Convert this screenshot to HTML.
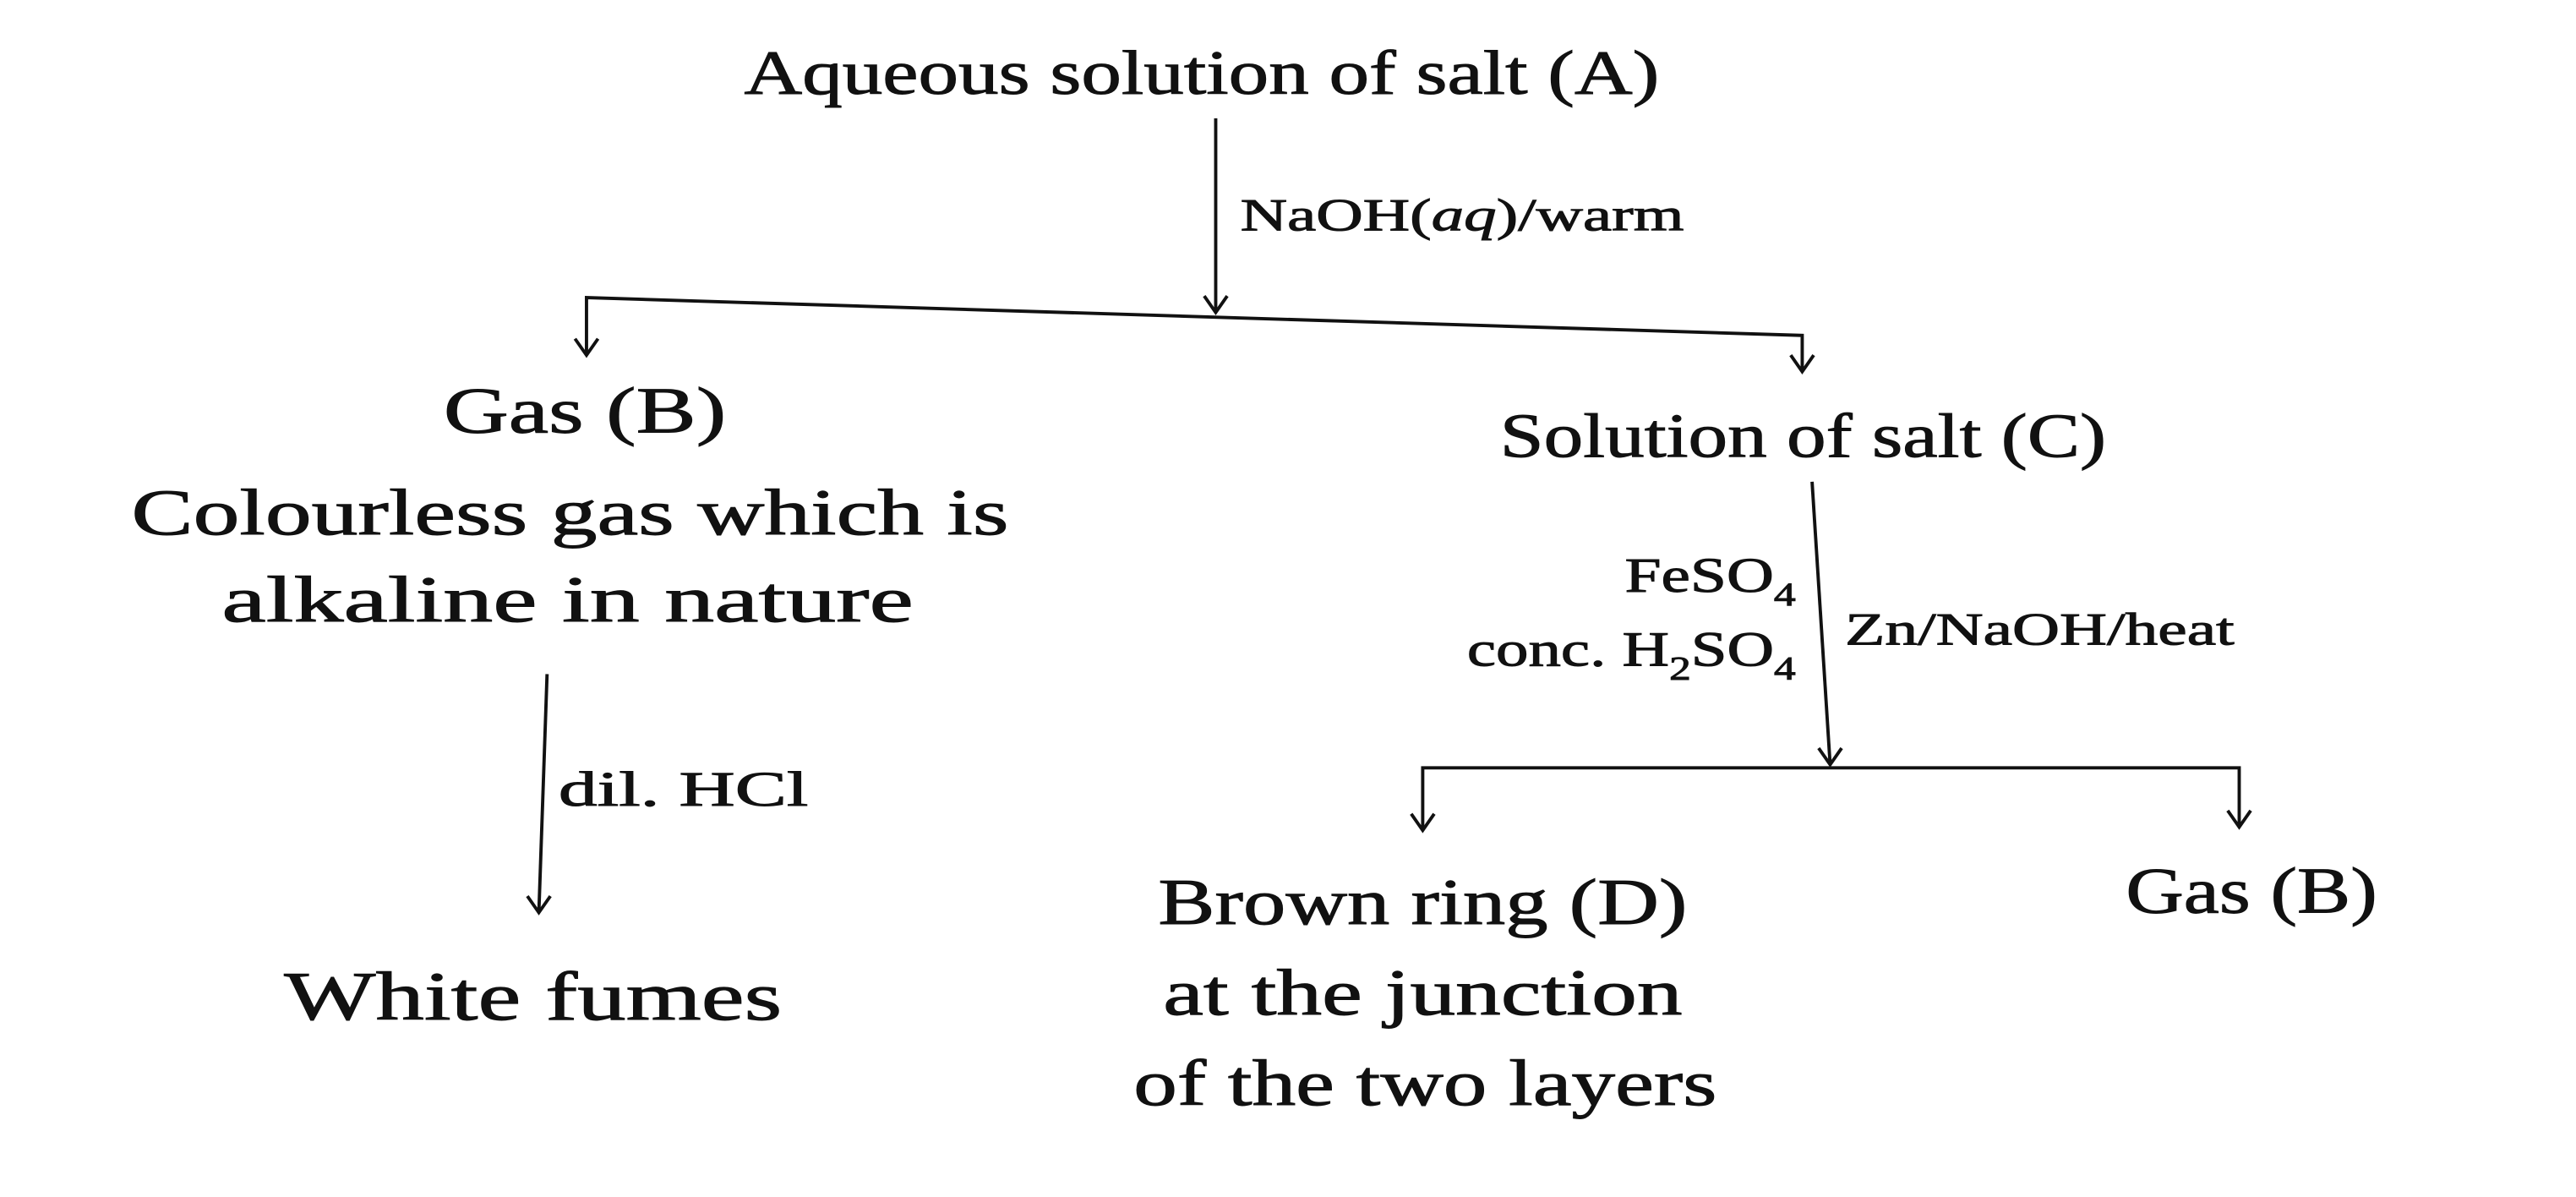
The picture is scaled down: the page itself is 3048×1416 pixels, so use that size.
<!DOCTYPE html>
<html><head><meta charset="utf-8"><style>
html,body{margin:0;padding:0;background:#fff;}
svg{display:block;}
text{font-family:"Liberation Serif",serif;fill:#111;stroke:#111;stroke-width:0.5;}
</style></head><body>
<svg width="3048" height="1416" viewBox="0 0 1568 728" preserveAspectRatio="none" xmlns="http://www.w3.org/2000/svg">
<g stroke="#111" stroke-width="2" fill="none">
<line x1="740" y1="72" x2="740" y2="190"/>
<polyline points="733,180 740,190 747,180"/>
<polyline points="357,215 357,181 1097,204 1097,225"/>
<polyline points="350,206 357,216 364,206"/>
<polyline points="1090,216 1097,226 1104,216"/>
<line x1="1103" y1="293" x2="1114" y2="465"/>
<polyline points="1107,455 1114,465 1121,455"/>
<polyline points="866,505 866,467 1363,467 1363,503"/>
<polyline points="859,495 866,505 873,495"/>
<polyline points="1356,493 1363,503 1370,493"/>
<line x1="333" y1="410" x2="328" y2="555"/>
<polyline points="321,545 328,555 335,545"/>
</g>
<text x="453" y="57" font-size="38" textLength="557" lengthAdjust="spacingAndGlyphs">Aqueous solution of salt (A)</text>
<text x="755" y="140" font-size="28" textLength="270" lengthAdjust="spacingAndGlyphs">NaOH(<tspan font-style="italic">aq</tspan>)/warm</text>
<text x="270" y="263" font-size="40" textLength="172" lengthAdjust="spacingAndGlyphs">Gas (B)</text>
<text x="913" y="278" font-size="38" textLength="369" lengthAdjust="spacingAndGlyphs">Solution of salt (C)</text>
<text x="80" y="325" font-size="40" textLength="534" lengthAdjust="spacingAndGlyphs">Colourless gas which is</text>
<text x="135" y="378" font-size="40" textLength="421" lengthAdjust="spacingAndGlyphs">alkaline in nature</text>
<text x="989" y="360" font-size="30" textLength="104" lengthAdjust="spacingAndGlyphs">FeSO<tspan font-size="20" dy="8">4</tspan></text>
<text x="893" y="405" font-size="30" textLength="200" lengthAdjust="spacingAndGlyphs">conc. H<tspan font-size="20" dy="8">2</tspan><tspan dy="-8">SO</tspan><tspan font-size="20" dy="8">4</tspan></text>
<text x="1123" y="392" font-size="28" textLength="237" lengthAdjust="spacingAndGlyphs">Zn/NaOH/heat</text>
<text x="340" y="490" font-size="30" textLength="152" lengthAdjust="spacingAndGlyphs">dil. HCl</text>
<text x="173" y="620" font-size="42" textLength="303" lengthAdjust="spacingAndGlyphs">White fumes</text>
<text x="705" y="562" font-size="40" textLength="322" lengthAdjust="spacingAndGlyphs">Brown ring (D)</text>
<text x="708" y="617" font-size="40" textLength="316" lengthAdjust="spacingAndGlyphs">at the junction</text>
<text x="690" y="672" font-size="40" textLength="355" lengthAdjust="spacingAndGlyphs">of the two layers</text>
<text x="1294" y="555" font-size="40" textLength="153" lengthAdjust="spacingAndGlyphs">Gas (B)</text>
</svg>
</body></html>
